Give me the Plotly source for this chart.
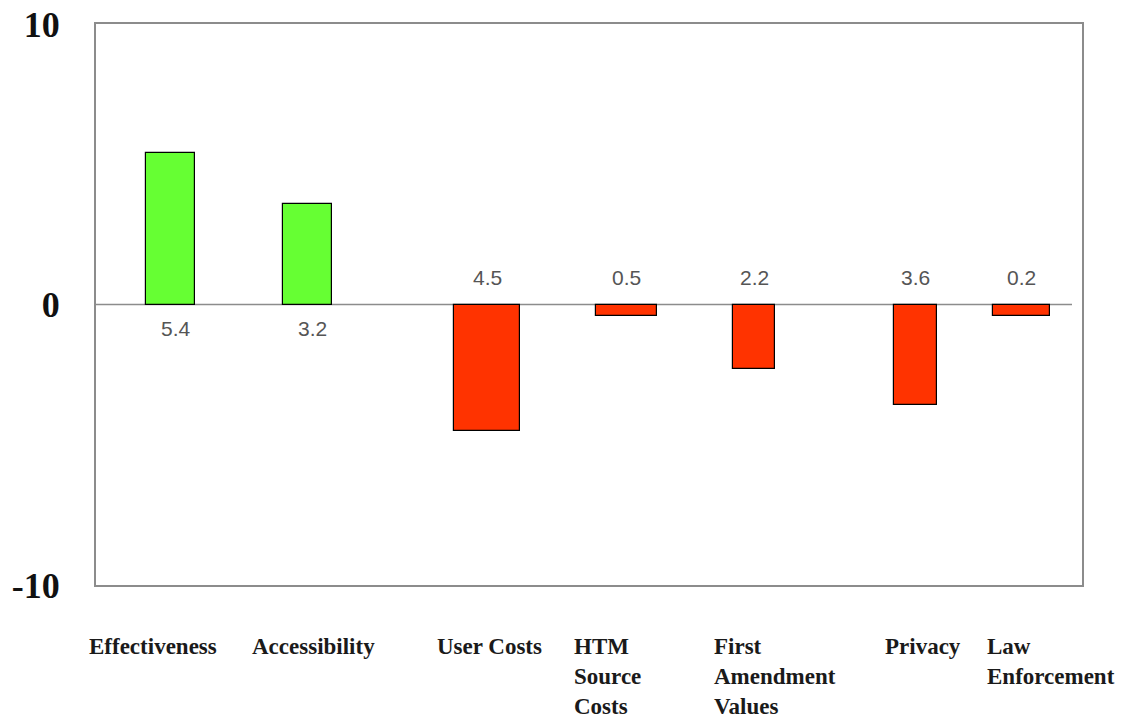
import plotly.graph_objects as go

# ---- data ----
categories = ["Effectiveness", "Accessibility", "User Costs", "HTM<br>Source<br>Costs",
              "First<br>Amendment<br>Values", "Privacy", "Law<br>Enforcement"]
values = [5.4, 3.6, -4.5, -0.4, -2.3, -3.6, -0.4]          # bar heights as drawn
value_labels = ["5.4", "3.2", "4.5", "0.5", "2.2", "3.6", "0.2"]  # numbers printed on chart
y_ticks = [-10, 0, 10]

# ---- layout (slot positions in axis units, widths, styles) ----
X_RANGE = [96, 1082]
slot_x = [170.5, 307.5, 487, 626.5, 754, 915.5, 1021.5]
bar_width = [49, 49, 66, 61, 42, 43, 57]
label_left = [87, 250, 435, 572, 712, 883, 985]
POS_COLOR = "#66ff33"
NEG_COLOR = "#ff3300"

colors = [POS_COLOR if v >= 0 else NEG_COLOR for v in values]


def to_paper(x):
    return (x - X_RANGE[0]) / (X_RANGE[1] - X_RANGE[0])


fig = go.Figure()
fig.add_trace(go.Bar(
    x=slot_x, y=values, width=bar_width,
    marker=dict(color=colors, line=dict(color="#000000", width=1.2)),
    hoverinfo="skip", showlegend=False,
))

# zero line
fig.add_shape(type="line", xref="x", yref="y", x0=X_RANGE[0], x1=1072, y0=0, y1=0,
              line=dict(color="#8c8c8c", width=1.5), layer="below")

annotations = []
for xc, v, lab in zip(slot_x, values, value_labels):
    annotations.append(dict(
        x=xc, y=0, xref="x", yref="y", text=lab, showarrow=False,
        xanchor="center", yanchor="middle",
        yshift=-24 if v >= 0 else 27, xshift=5 if v >= 0 else 0,
        font=dict(family="Liberation Sans, Arial, sans-serif", size=21, color="#555555"),
    ))
for xl, cat in zip(label_left, categories):
    annotations.append(dict(
        x=to_paper(xl), y=0, xref="paper", yref="paper", text=cat, showarrow=False,
        xanchor="left", yanchor="top", align="left", yshift=-47,
        font=dict(family="Liberation Serif, Times New Roman, serif", size=23,
                  color="#1a1a1a", weight="bold"),
    ))

fig.update_layout(
    width=1127, height=719,
    margin=dict(l=96, r=45, t=24, b=134, pad=0, autoexpand=False),
    paper_bgcolor="white", plot_bgcolor="white",
    annotations=annotations,
    bargap=0,
)
fig.update_xaxes(range=X_RANGE, showgrid=False, zeroline=False, showticklabels=False,
                 ticks="", showline=True, mirror=True, linecolor="#8c8c8c", linewidth=2,
                 fixedrange=True, automargin=False)
fig.update_yaxes(range=[-10, 10], tickvals=y_ticks, ticktext=[str(t) for t in y_ticks],
                 showgrid=False, zeroline=False, ticks="", ticklabelstandoff=27,
                 showline=True, mirror=True, linecolor="#8c8c8c", linewidth=2,
                 tickfont=dict(family="Liberation Serif, Times New Roman, serif", size=36,
                               color="#111111", weight="bold"),
                 fixedrange=True, automargin=False)

fig.write_html("out.html", config={"displayModeBar": False},
               post_script="document.body.style.margin='0';document.body.style.overflow='hidden';")
